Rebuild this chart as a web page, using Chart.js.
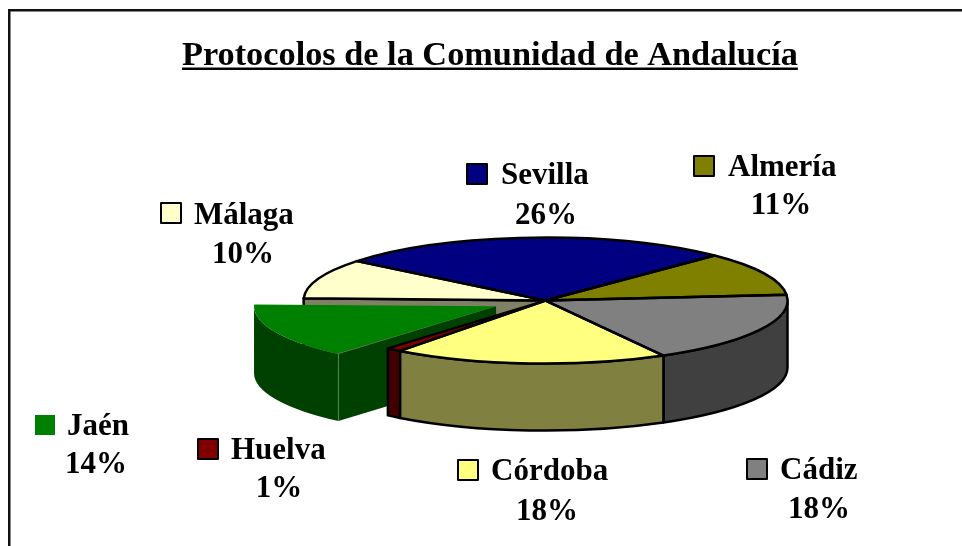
<!DOCTYPE html>
<html lang="es">
<head>
<meta charset="utf-8">
<title>Protocolos de la Comunidad de Andalucía</title>
<script src="https://cdn.jsdelivr.net/npm/chart.js@4/dist/chart.umd.js"></script>
<style>
  html, body { margin: 0; padding: 0; background: #fff; overflow: hidden; }
  canvas { display: block; }
</style>
</head>
<body>
<canvas id="pie" width="962" height="546"></canvas>
<script>
// ─── Data ───────────────────────────────────────────────────────────
const chartTitle = 'Protocolos de la Comunidad de Andalucía';
const provinces = ['Sevilla', 'Almería', 'Cádiz', 'Córdoba', 'Huelva', 'Jaén', 'Málaga'];
const percents = [26, 11, 18, 18, 1, 14, 10];
const faceColors = ['#000080', '#808000', '#808080', '#ffff80', '#800000', '#008000', '#ffffcc'];
const wallColors = ['#000040', '#404000', '#404040', '#808040', '#400000', '#004000', '#808066'];
const pulledOut = [0, 0, 0, 0, 0, 216, 0];   // arc "offset" option, Jaén only

// ─── Layout (label anchors, not data) ───────────────────────────────
const labelSpots = {
  Sevilla: { key: [467, 164], name: [501, 184], pct: [546, 224] },
  Almería: { key: [694, 156], name: [728, 176], pct: [781, 214] },
  Cádiz:   { key: [747, 459], name: [780, 479], pct: [819, 518] },
  Córdoba: { key: [458, 460], name: [491, 480], pct: [547, 520] },
  Huelva:  { key: [198, 439], name: [231, 459], pct: [279, 497] },
  Jaén:    { key: [35, 415],  name: [67, 435],  pct: [96, 473] },
  Málaga:  { key: [161, 203], name: [194, 224], pct: [243, 263] },
};
const TILT = 63 / 242;   // squash of the pie plane
const DEPTH = 67;
const LINE = 2.5;
const SERIF = '"Liberation Serif", serif';

// ─── 3D look: squash the library's arcs and add the walls ───────────
// Chart.js draws a pulled slice a bit bigger than its outerRadius says
function radiusFix(arc) {
  const off = (arc.options.offset || 0) / 4;
  return off * (1 - Math.sin(Math.min(Math.PI, arc.circumference)));
}

function drawnRadius(arc) {
  return arc.outerRadius + radiusFix(arc);
}

function origin(arc) {
  const off = (arc.options.offset || 0) / 4;
  const mid = (arc.startAngle + arc.endAngle) / 2;
  return { x: arc.x + Math.cos(mid) * off, y: arc.y + Math.sin(mid) * off * TILT };
}

function rimPoint(arc, angle) {
  const o = origin(arc);
  const r = drawnRadius(arc);
  return { x: o.x + Math.cos(angle) * r, y: o.y + Math.sin(angle) * r * TILT };
}

// front part of an arc: the stretches of it with sin(angle) > 0
function frontSpans(arc) {
  const spans = [];
  for (let k = -2; k <= 2; k++) {
    const a = Math.max(arc.startAngle, k * 2 * Math.PI);
    const b = Math.min(arc.endAngle, k * 2 * Math.PI + Math.PI);
    if (b > a) spans.push([a, b]);
  }
  return spans;
}

function drawRim(ctx, arc, color, edge) {
  const o = origin(arc);
  const r = drawnRadius(arc);
  frontSpans(arc).forEach(([a, b]) => {
    ctx.beginPath();
    ctx.ellipse(o.x, o.y, r, r * TILT, 0, a, b);
    ctx.ellipse(o.x, o.y + DEPTH, r, r * TILT, 0, b, a, true);
    ctx.closePath();
    ctx.fillStyle = color;
    ctx.fill();
    if (edge) {
      ctx.strokeStyle = edge;
      ctx.lineWidth = LINE;
      ctx.stroke();
    }
  });
}

function drawCut(ctx, arc, angle, color, edge) {
  const o = origin(arc);
  const p = rimPoint(arc, angle);
  ctx.beginPath();
  ctx.moveTo(o.x, o.y);
  ctx.lineTo(p.x, p.y);
  ctx.lineTo(p.x, p.y + DEPTH);
  ctx.lineTo(o.x, o.y + DEPTH);
  ctx.closePath();
  ctx.fillStyle = color;
  ctx.fill();
  if (edge) {
    ctx.strokeStyle = edge;
    ctx.lineWidth = LINE;
    ctx.stroke();
  }
}

const pie3d = {
  id: 'pie3d',
  afterDatasetsUpdate(chart) {
    // keep the pulled slice the same size as the rest
    chart.getDatasetMeta(0).data.forEach(arc => {
      arc.outerRadius -= radiusFix(arc);
    });
  },
  beforeDraw(chart) {
    const ctx = chart.ctx;
    ctx.save();
    ctx.fillStyle = '#111';
    ctx.fillRect(8, 9, 954, 2.5);
    ctx.fillRect(8, 9, 2.5, 537);
    ctx.restore();
  },
  beforeDatasetsDraw(chart) {
    const ctx = chart.ctx;
    const arcs = chart.getDatasetMeta(0).data;
    const n = arcs.length;
    ctx.save();
    ctx.lineJoin = 'round';
    arcs.forEach((arc, i) => {
      if (!pulledOut[i]) return;
      // walls the gap uncovers on the neighbours
      const prev = (i - 1 + n) % n;
      const next = (i + 1) % n;
      if (Math.cos(arcs[prev].endAngle) > 0) drawCut(ctx, arcs[prev], arcs[prev].endAngle, wallColors[prev], '#000');
      if (Math.cos(arcs[next].startAngle) < 0) drawCut(ctx, arcs[next], arcs[next].startAngle, wallColors[next], '#000');
      // the pulled slice itself, no outline in the original
      if (Math.cos(arc.startAngle) < 0) drawCut(ctx, arc, arc.startAngle, wallColors[i]);
      drawRim(ctx, arc, wallColors[i]);
      const tip = rimPoint(arc, arc.startAngle);
      ctx.strokeStyle = '#4d8a4d';
      ctx.lineWidth = 1;
      ctx.beginPath();
      ctx.moveTo(tip.x, tip.y);
      ctx.lineTo(tip.x, tip.y + DEPTH);
      ctx.stroke();
    });
    arcs.forEach((arc, i) => {
      if (!pulledOut[i]) drawRim(ctx, arc, wallColors[i], '#000');
    });
    ctx.restore();
  },
  beforeDatasetDraw(chart) {
    const ctx = chart.ctx;
    const cy = chart.getDatasetMeta(0).data[0].y;
    ctx.save();
    ctx.translate(0, cy);
    ctx.scale(1, TILT);
    ctx.translate(0, -cy);
  },
  afterDatasetDraw(chart) {
    chart.ctx.restore();
  },
  afterDatasetsDraw(chart) {
    const ctx = chart.ctx;
    ctx.save();
    // outlines of the top faces, at full line width
    ctx.lineJoin = 'round';
    ctx.strokeStyle = '#000';
    ctx.lineWidth = LINE;
    chart.getDatasetMeta(0).data.forEach((arc, i) => {
      if (pulledOut[i]) return;
      ctx.beginPath();
      ctx.moveTo(arc.x, arc.y);
      ctx.ellipse(arc.x, arc.y, arc.outerRadius, arc.outerRadius * TILT, 0, arc.startAngle, arc.endAngle);
      ctx.closePath();
      ctx.stroke();
    });

    // title underline
    const t = chart.titleBlock;
    ctx.font = t.options.font.weight + ' ' + t.options.font.size + 'px ' + t.options.font.family;
    const w = ctx.measureText(chartTitle).width;
    ctx.fillStyle = '#000';
    ctx.fillRect(t.left, 67.5, w, 2.5);

    // labels
    ctx.font = 'bold 31px ' + SERIF;
    ctx.textBaseline = 'alphabetic';
    provinces.forEach((name, i) => {
      const spot = labelSpots[name];
      ctx.fillStyle = faceColors[i];
      ctx.fillRect(spot.key[0], spot.key[1], 20, 20);
      if (!pulledOut[i]) {
        ctx.strokeStyle = '#000';
        ctx.lineWidth = 2;
        ctx.strokeRect(spot.key[0], spot.key[1], 20, 20);
      }
      ctx.fillStyle = '#000';
      ctx.textAlign = 'left';
      ctx.fillText(name, spot.name[0], spot.name[1]);
      ctx.textAlign = 'center';
      ctx.fillText(percents[i] + '%', spot.pct[0], spot.pct[1]);
    });
    ctx.restore();
  },
};

// ─── Chart ──────────────────────────────────────────────────────────
new Chart(document.getElementById('pie'), {
  type: 'pie',
  plugins: [pie3d],
  data: {
    labels: provinces,
    datasets: [{
      data: percents,
      backgroundColor: faceColors,
      borderWidth: 0,
      offset: pulledOut,
      clip: false,
    }],
  },
  options: {
    responsive: false,
    animation: false,
    rotation: -51.2,
    radius: 242,
    layout: { padding: { left: 182, right: 53, top: 36, bottom: 22 } },
    plugins: {
      legend: { display: false },
      tooltip: { enabled: false },
      title: {
        display: true,
        text: chartTitle,
        align: 'start',
        color: '#000',
        padding: 0,
        font: { family: SERIF, size: 34.3, weight: 'bold', lineHeight: 1.2 },
      },
    },
  },
});
</script>
</body>
</html>
